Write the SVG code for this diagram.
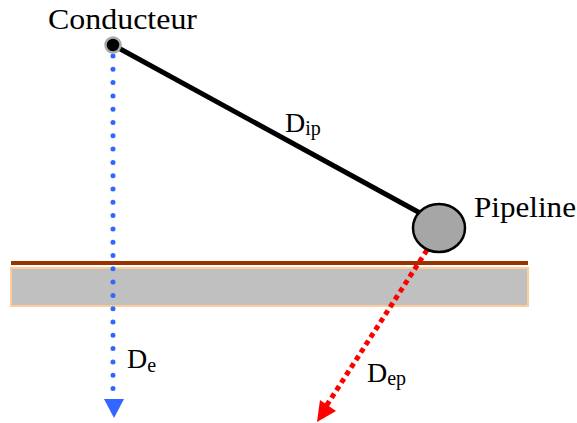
<svg xmlns="http://www.w3.org/2000/svg" width="577" height="423" viewBox="0 0 577 423">
<style>
text{font-family:'Liberation Serif','Times New Roman',Tinos,'DejaVu Serif',serif;fill:#000}
.lbl{font-size:30px}
.d{font-size:28px}
.sub{font-size:20px}
</style>
<rect width="577" height="423" fill="#fff"/>
<g id="ground">
<rect x="11" y="268" width="517" height="38" fill="#c0c0c0" stroke="#ffcc99" stroke-width="2"/>
<line x1="11" y1="263" x2="528" y2="263" stroke="#993300" stroke-width="4"/>
</g>
<g id="connectors">
<line x1="113" y1="45" x2="431" y2="219" stroke="#000" stroke-width="5"/>
<line x1="113" y1="56" x2="113" y2="396" stroke="#3366ff" stroke-width="5" stroke-linecap="round" stroke-dasharray="0 13.3"/>
<polygon points="104,399 124,399 114,418" fill="#3366ff"/>
<line x1="427" y1="250" x2="325" y2="408" stroke="#ff0000" stroke-width="5" stroke-dasharray="5 4"/>
<polygon points="317,422 320,400 336,411" fill="#ff0000"/>
</g>
<g id="conducteur">
<circle cx="113" cy="45" r="7.5" fill="#000" stroke="#aaa" stroke-width="2.5"/>
<text class="lbl" x="48" y="29" textLength="149" lengthAdjust="spacingAndGlyphs">Conducteur</text>
</g>
<g id="pipeline">
<ellipse cx="439" cy="228" rx="26" ry="24" fill="#a6a6a6" stroke="#000" stroke-width="2.5"/>
<text class="lbl" x="474" y="217" textLength="102" lengthAdjust="spacingAndGlyphs">Pipeline</text>
</g>
<g id="labels">
<text class="d" x="285" y="132">D<tspan class="sub" dy="3">ip</tspan></text>
<text class="d" x="127" y="368">D<tspan class="sub" dy="4">e</tspan></text>
<text class="d" x="367" y="382">D<tspan class="sub" dy="3">ep</tspan></text>
</g>
</svg>
